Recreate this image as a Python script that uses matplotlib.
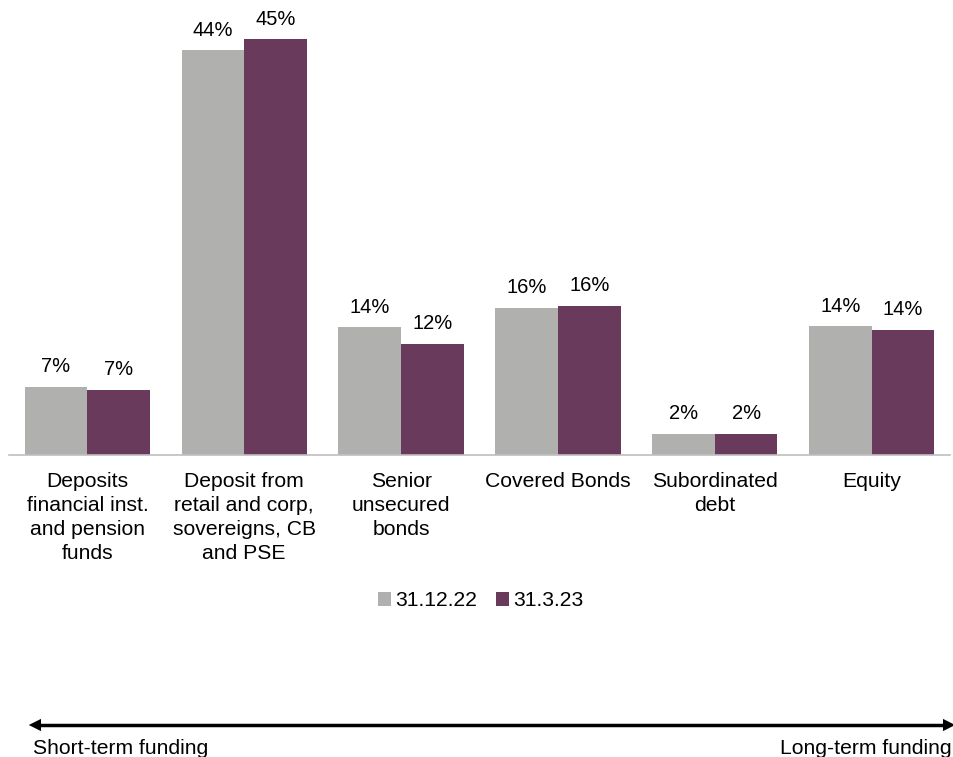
import matplotlib.pyplot as plt
import numpy as np

plt.rcParams["font.family"] = ["Liberation Sans", "DejaVu Sans"]

# funding mix by instrument, share of total (%)
categories = [
    "Deposits\nfinancial inst.\nand pension\nfunds",
    "Deposit from\nretail and corp,\nsovereigns, CB\nand PSE",
    "Senior\nunsecured\nbonds",
    "Covered Bonds",
    "Subordinated\ndebt",
    "Equity",
]
series_names = ["31.12.22", "31.3.23"]
values_dec22 = [7.4, 44.0, 13.9, 16.0, 2.3, 14.0]
values_mar23 = [7.1, 45.2, 12.1, 16.2, 2.3, 13.6]
labels_dec22 = ["7%", "44%", "14%", "16%", "2%", "14%"]
labels_mar23 = ["7%", "45%", "12%", "16%", "2%", "14%"]

grey = "#b0b1af"
purple = "#6a3a5c"
fs_val = 14.5
fs = 15.2

fig = plt.figure(figsize=(9.54, 7.57), dpi=100)
ax = fig.add_axes([9 / 954, 1 - 455 / 757, 941 / 954, 441.6 / 757])

x = np.arange(len(categories))
w = 0.4
b1 = ax.bar(x - w / 2, values_dec22, w, color=grey, label=series_names[0])
b2 = ax.bar(x + w / 2, values_mar23, w, color=purple, label=series_names[1])

for bars, labs in ((b1, labels_dec22), (b2, labels_mar23)):
    for rect, lab in zip(bars, labs):
        ax.annotate(
            lab,
            (rect.get_x() + rect.get_width() / 2, rect.get_height()),
            xytext=(0, 10.5),
            textcoords="offset points",
            ha="center",
            va="baseline",
            fontsize=fs_val,
        )

ax.set_xlim(-0.5, len(categories) - 0.5)
ax.set_ylim(0, 48)
ax.set_yticks([])
for s in ("top", "right", "left"):
    ax.spines[s].set_visible(False)
ax.spines["bottom"].set_color("#bfbfbf")
ax.spines["bottom"].set_linewidth(1.2)
ax.set_xticks(x)
ax.set_xticklabels(categories, fontsize=fs, linespacing=1.33, va="top")
ax.tick_params(axis="x", length=0, pad=12)

fig.legend(
    handles=[b1, b2],
    labels=series_names,
    loc="center",
    bbox_to_anchor=(481 / 954, 1 - 601 / 757),
    ncol=2,
    frameon=False,
    fontsize=fs,
    handlelength=0.6,
    handleheight=0.6,
    handletextpad=0.2,
    columnspacing=0.9,
)

# short-term vs long-term arrow across the bottom
y_arrow = 1 - 725 / 757
fig.add_artist(
    plt.Line2D([36 / 954, 946 / 954], [y_arrow, y_arrow], color="black", lw=2.5)
)
ax.annotate(
    "",
    xy=(26 / 954, y_arrow),
    xytext=(40 / 954, y_arrow),
    xycoords="figure fraction",
    arrowprops=dict(arrowstyle="-|>", color="black", lw=0, mutation_scale=22),
)
ax.annotate(
    "",
    xy=(958 / 954, y_arrow),
    xytext=(944 / 954, y_arrow),
    xycoords="figure fraction",
    arrowprops=dict(arrowstyle="-|>", color="black", lw=0, mutation_scale=22),
)
fig.text(33 / 954, 1 - 754 / 757, "Short-term funding", fontsize=fs, ha="left", va="baseline")
fig.text(952 / 954, 1 - 754 / 757, "Long-term funding", fontsize=fs, ha="right", va="baseline")

fig.savefig("out.png", dpi=100)
